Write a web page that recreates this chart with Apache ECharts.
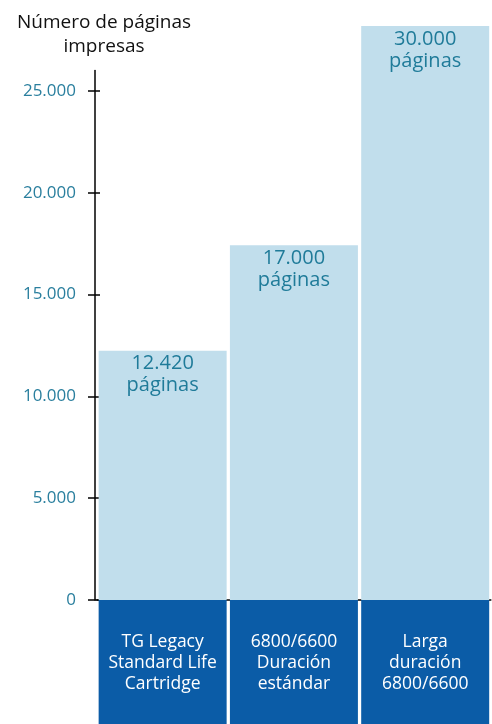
<!DOCTYPE html>
<html>
<head>
<meta charset="utf-8">
<script src="https://cdn.jsdelivr.net/npm/echarts@6/dist/echarts.min.js"></script>
<style>
  html, body { margin: 0; padding: 0; background: #fff; }
  #chart { width: 492px; height: 724px; }
</style>
</head>
<body>
<div id="chart"></div>
<script>
// datos
const categories = ["TG Legacy\nStandard Life\nCartridge", "6800/6600\nDuración\nestándar", "Larga\nduración\n6800/6600"];
const barHeights = [12240, 17420, 28190];
const valueLabels = ["12.420", "17.000", "30.000"];
const yTicks = [0, 5000, 10000, 15000, 20000, 25000];

const FONT = "Open Sans";
const TEAL = "#2a7f9e";

// 25000 -> "25.000"
function fmt(v) {
  return String(v).replace(/\B(?=(\d{3})+(?!\d))/g, ".");
}

const chart = echarts.init(document.getElementById("chart"));

const yBase = {
  type: "value",
  min: 0,
  max: 26000,
  interval: 5000,
  position: "left",
  offset: 2,
  splitLine: { show: false }
};

chart.setOption({
  animation: false,
  textStyle: { fontFamily: FONT },
  title: {
    text: "Número de páginas\nimpresas",
    left: 99,
    top: 6,
    textAlign: "center",
    textStyle: { fontFamily: FONT, fontSize: 19, fontWeight: "normal", color: "#111", lineHeight: 24 }
  },
  grid: { left: 97, right: 0, top: 70.6, bottom: 124 },
  xAxis: {
    type: "category",
    data: categories,
    axisLine: { show: true, lineStyle: { color: "#000", width: 1.5 } },
    axisTick: { show: false },
    axisLabel: {
      interval: 0,
      margin: 0,
      color: "#fff",
      fontFamily: FONT,
      fontSize: 17.5,
      lineHeight: 21,
      backgroundColor: "#0b5ca7",
      width: 128,
      height: 92,
      padding: [32, 0, 0, 0],
      align: "center",
      verticalAlign: "top"
    }
  },
  yAxis: [
    Object.assign({}, yBase, {
      axisLine: { show: true, lineStyle: { color: "#000", width: 1.5 } },
      axisTick: { show: true, length: 7, lineStyle: { color: "#000", width: 1.5 }, customValues: yTicks },
      axisLabel: { color: TEAL, fontFamily: FONT, fontSize: 17, margin: 19, formatter: fmt, customValues: yTicks }
    }),
    Object.assign({}, yBase, {
      axisLine: { show: false },
      axisTick: { show: true, inside: true, length: 5, lineStyle: { color: "#000", width: 1.5 }, customValues: yTicks },
      axisLabel: { show: false }
    })
  ],
  series: [{
    type: "bar",
    yAxisIndex: 0,
    data: barHeights,
    barWidth: 128,
    clip: false,
    itemStyle: { color: "#c1deec" },
    label: {
      show: true,
      position: "insideTop",
      distance: 2,
      color: "#1f7b99",
      fontFamily: FONT,
      fontSize: 20,
      lineHeight: 22,
      formatter: (p) => valueLabels[p.dataIndex] + "\npáginas"
    }
  }]
});
</script>
</body>
</html>
